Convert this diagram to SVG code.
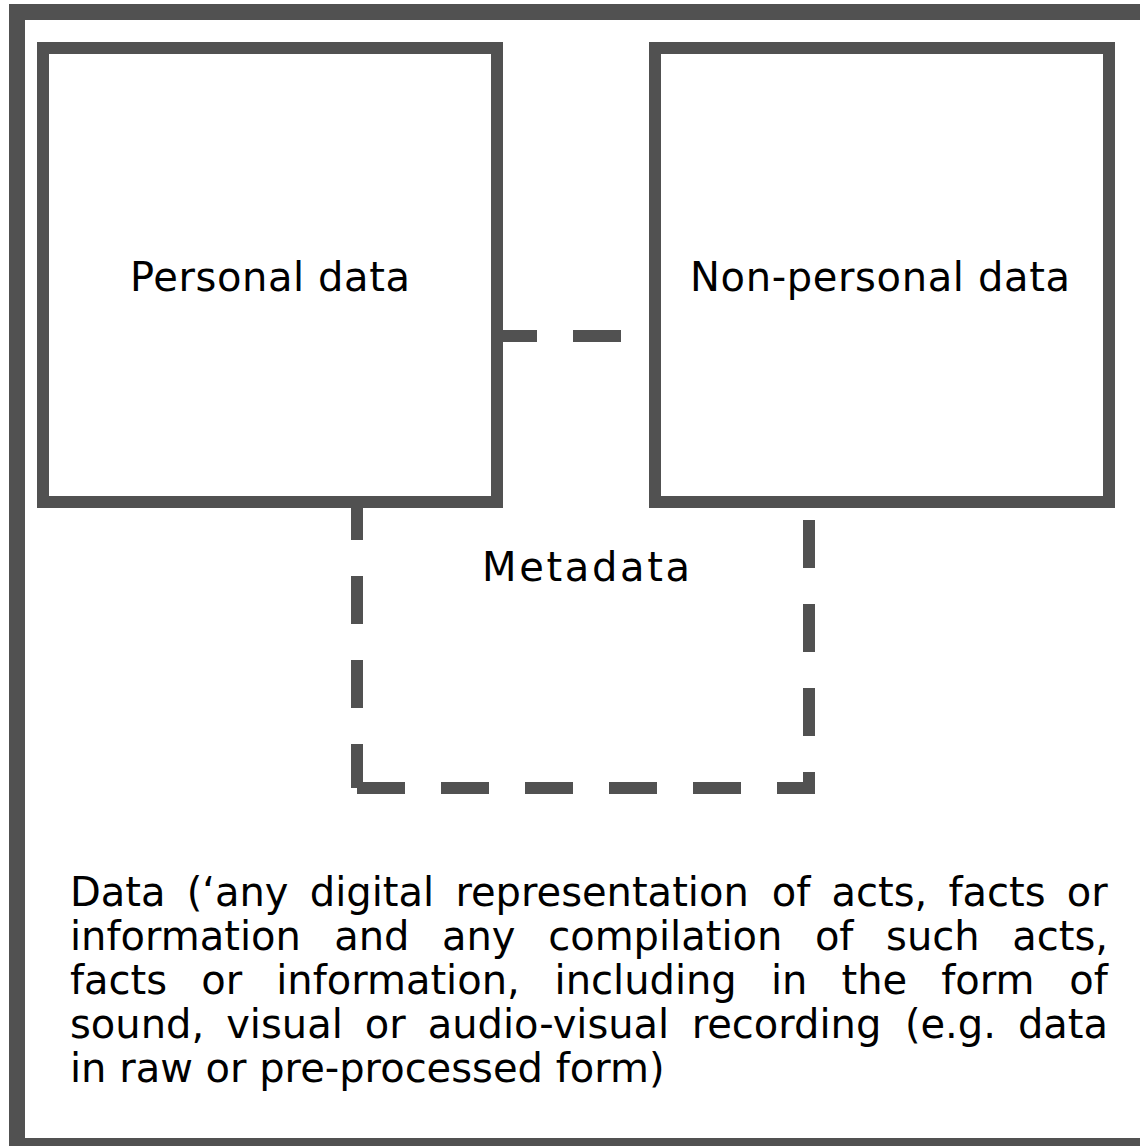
<svg xmlns="http://www.w3.org/2000/svg" width="1140" height="1146" viewBox="0 0 1140 1146">
  <style>
    .frame { fill: none; stroke: #515151; stroke-width: 16; }
    .box { fill: none; stroke: #515151; stroke-width: 12; }
    .dash { fill: none; stroke: #515151; stroke-width: 12; stroke-dasharray: 48 36; stroke-linecap: butt; }
    .lbl { font-family: "DejaVu Sans", "Liberation Sans", sans-serif; font-size: 40px; fill: #000; }
  </style>
  <rect width="1140" height="1146" fill="#ffffff"/>
  <g id="data">
    <rect class="frame" x="17" y="12" width="1150" height="1134"/>
    <text class="lbl">
      <tspan x="70" y="906">Data</tspan><tspan x="186.7" y="906">(‘any</tspan><tspan x="309.8" y="906">digital</tspan><tspan x="455.4" y="906">representation</tspan><tspan x="771.7" y="906">of</tspan><tspan x="831.5" y="906">acts,</tspan><tspan x="948.5" y="906">facts</tspan><tspan x="1066.8" y="906">or</tspan>
      <tspan x="70" y="950">information</tspan><tspan x="334.2" y="950">and</tspan><tspan x="442" y="950">any</tspan><tspan x="548.2" y="950">compilation</tspan><tspan x="814.9" y="950">of</tspan><tspan x="886.1" y="950">such</tspan><tspan x="1012.2" y="950">acts,</tspan>
      <tspan x="70" y="994">facts</tspan><tspan x="201.2" y="994">or</tspan><tspan x="276.2" y="994">information,</tspan><tspan x="554.6" y="994">including</tspan><tspan x="770.9" y="994">in</tspan><tspan x="841.5" y="994">the</tspan><tspan x="941.2" y="994">form</tspan><tspan x="1069.3" y="994">of</tspan>
      <tspan x="70" y="1038">sound,</tspan><tspan x="226.2" y="1038">visual</tspan><tspan x="364.8" y="1038">or</tspan><tspan x="427.7" y="1038">audio-visual</tspan><tspan x="691.7" y="1038">recording</tspan><tspan x="904.9" y="1038">(e.g.</tspan><tspan x="1017.9" y="1038">data</tspan>
      <tspan x="70" y="1082">in raw or pre-processed form)</tspan>
    </text>
  </g>
  <g id="personal-data">
    <rect class="box" x="43" y="48" width="454" height="454"/>
    <text class="lbl" x="270" y="291" text-anchor="middle" textLength="280">Personal data</text>
  </g>
  <g id="non-personal-data">
    <rect class="box" x="655" y="48" width="454" height="454"/>
    <text class="lbl" x="880" y="291" text-anchor="middle" textLength="380">Non-personal data</text>
  </g>
  <g id="metadata">
    <text class="lbl" x="586" y="581" text-anchor="middle" textLength="208">Metadata</text>
  </g>
  <g id="connectors">
    <line class="dash" x1="497" y1="336" x2="649" y2="336" stroke-dashoffset="8"/>
    <line class="dash" x1="357" y1="502" x2="357" y2="788" stroke-dashoffset="10"/>
    <line class="dash" x1="357" y1="788" x2="815" y2="788"/>
    <line class="dash" x1="809" y1="520" x2="809" y2="788"/>
  </g>
</svg>
